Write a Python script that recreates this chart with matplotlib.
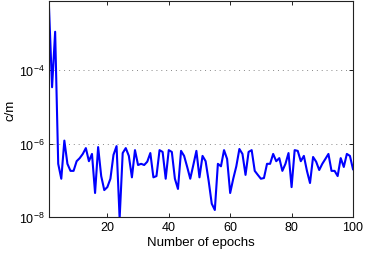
import numpy as np
import matplotlib
matplotlib.use("Agg")
import matplotlib.pyplot as plt
from matplotlib.ticker import FixedLocator, NullLocator

plt.rcParams['font.family'] = ['Liberation Sans', 'DejaVu Sans']
plt.rcParams['mathtext.fontset'] = 'custom'
plt.rcParams['mathtext.rm'] = 'Liberation Sans'
plt.rcParams['mathtext.it'] = 'Liberation Sans'

epochs = list(range(1, 101))
cm_values = [
    5.1e-3, 3.4e-5, 1.1e-3, 2.8e-7, 1.1e-7, 1.2e-6, 2.8e-7, 1.8e-7, 1.8e-7, 3.3e-7,
    4.0e-7, 5.2e-7, 7.5e-7, 3.3e-7, 5.2e-7, 4.5e-8, 8.0e-7, 1.3e-7, 5.4e-8, 6.5e-8,
    1.1e-7, 4.9e-7, 8.5e-7, 9.0e-9, 5.5e-7, 7.5e-7, 4.6e-7, 1.2e-7, 6.6e-7, 2.6e-7,
    2.8e-7, 2.6e-7, 3.2e-7, 5.5e-7, 1.2e-7, 1.3e-7, 6.6e-7, 5.9e-7, 1.1e-7, 6.6e-7,
    5.9e-7, 1.1e-7, 5.8e-8, 6.3e-7, 4.6e-7, 2.3e-7, 1.1e-7, 2.6e-7, 6.3e-7, 1.2e-7,
    4.6e-7, 3.3e-7, 9.5e-8, 2.3e-8, 1.55e-8, 2.8e-7, 2.4e-7, 6.6e-7, 3.8e-7, 4.5e-8,
    1.1e-7, 2.4e-7, 7.1e-7, 5.2e-7, 1.4e-7, 5.9e-7, 6.6e-7, 1.8e-7, 1.4e-7, 1.1e-7,
    1.15e-7, 2.8e-7, 2.8e-7, 5.2e-7, 3.3e-7, 4.0e-7, 1.8e-7, 2.8e-7, 5.5e-7, 6.5e-8,
    6.6e-7, 6.3e-7, 3.3e-7, 4.6e-7, 1.8e-7, 8.4e-8, 4.3e-7, 3.2e-7, 1.9e-7, 2.8e-7,
    3.8e-7, 5.2e-7, 1.8e-7, 1.8e-7, 1.3e-7, 4.0e-7, 2.3e-7, 5.2e-7, 4.6e-7, 2.0e-7,
]
x_ticks = [20, 40, 60, 80, 100]
y_ticks = [1e-8, 1e-6, 1e-4]
y_tick_labels = [r'$10^{-8}$', r'$10^{-6}$', r'$10^{-4}$']

fig = plt.figure(figsize=(3.65, 2.55), dpi=100)
ax = fig.add_axes([49/365, 1 - 218/255, (353 - 49)/365, (218 - 2)/255])
ax.plot(epochs, cm_values, color=(0, 0, 1), linewidth=1.5)
ax.set_yscale('log')
ax.set_xlim(1, 100)
ax.set_ylim(1e-8, 10**(-2.122))
ax.xaxis.set_major_locator(FixedLocator(x_ticks))
ax.xaxis.set_minor_locator(NullLocator())
ax.yaxis.set_major_locator(FixedLocator(y_ticks))
ax.yaxis.set_minor_locator(NullLocator())
ax.set_yticklabels(y_tick_labels)
ax.tick_params(direction='in', length=3, width=0.6, labelsize=9, top=True, right=True, colors='black', pad=3)
ax.yaxis.grid(True, linestyle=(0, (1, 4)), color='#888888', linewidth=0.7)
for s in ax.spines.values():
    s.set_linewidth(0.8)
    s.set_color('#222222')
ax.set_xlabel('Number of epochs', fontsize=9.5, labelpad=2)
ax.set_ylabel('c/m', fontsize=9.5, labelpad=2)
fig.savefig('out.png', dpi=100)
